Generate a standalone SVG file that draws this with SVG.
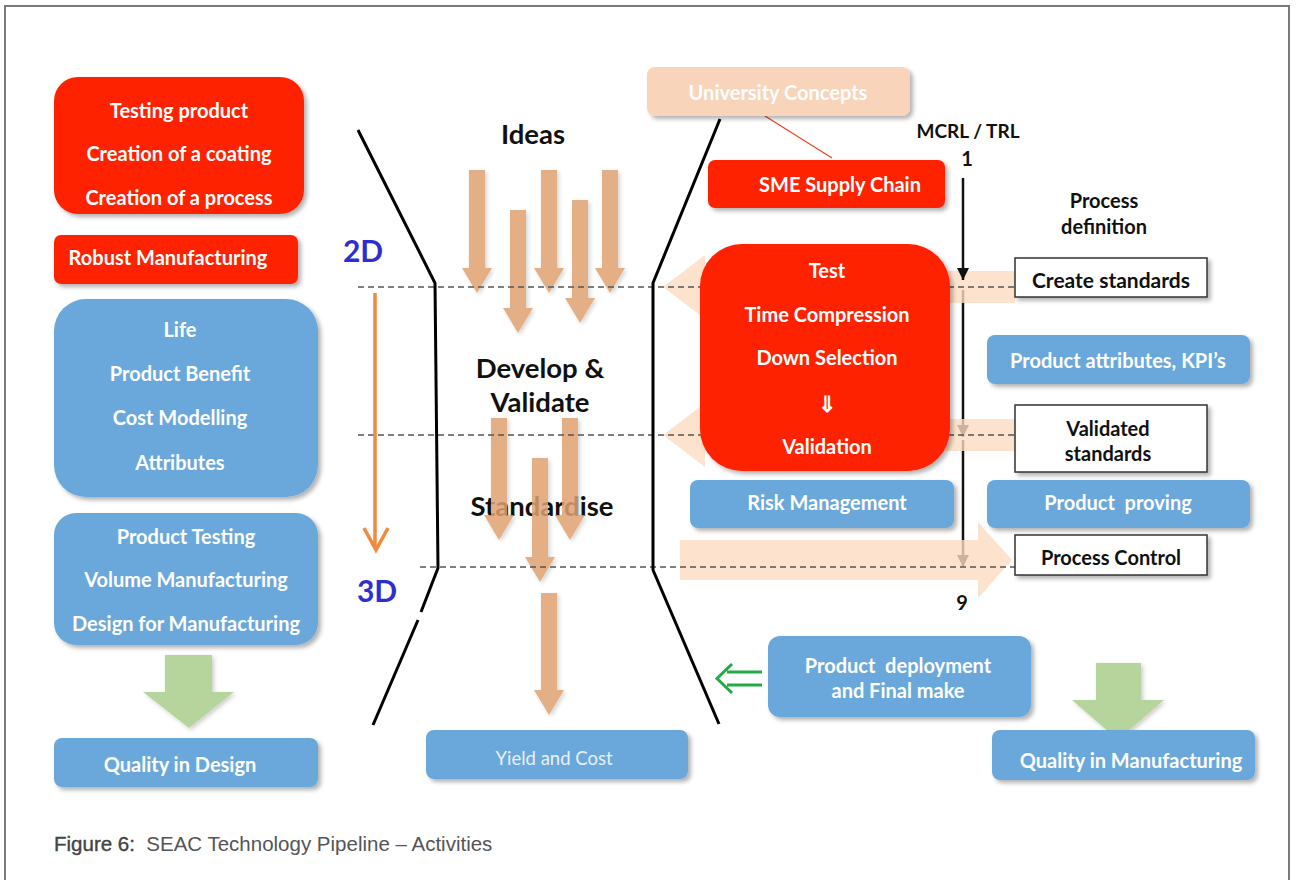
<svg xmlns="http://www.w3.org/2000/svg" width="1296" height="880" viewBox="0 0 1296 880">
<defs>
<filter id="sh" x="-10%" y="-10%" width="130%" height="140%">
<feDropShadow dx="3" dy="3" stdDeviation="2" flood-color="#000" flood-opacity="0.3"/>
</filter>
<filter id="soft" x="-30%" y="-10%" width="160%" height="130%">
<feDropShadow dx="2" dy="2" stdDeviation="2" flood-color="#000" flood-opacity="0.2"/>
</filter>
<marker id="ah" viewBox="0 0 10 10" refX="10" refY="5" markerWidth="5" markerHeight="5" orient="auto" markerUnits="strokeWidth">
<path d="M0,0 L10,5 L0,10 Z" fill="#111"/>
</marker>
</defs>
<style>
.red{fill:#fe2200;filter:url(#sh)}
.blue{fill:#6ba8db;filter:url(#sh)}
.wbox{fill:#fff;stroke:#333;stroke-width:1.5;filter:url(#sh)}
.wt{font-family:Lato,"Liberation Sans",sans-serif;font-weight:bold;font-size:20px;fill:#fff;text-anchor:middle;dominant-baseline:central}
.bt{font-family:Lato,"Liberation Sans",sans-serif;font-weight:bold;font-size:20px;fill:#111;text-anchor:middle;dominant-baseline:central}
.big{font-family:Lato,"Liberation Sans",sans-serif;font-weight:bold;font-size:27.5px;fill:#111;text-anchor:middle;dominant-baseline:central}
.dim{font-family:Lato,"Liberation Sans",sans-serif;font-weight:bold;font-size:30px;fill:#2e2ed0;text-anchor:middle;dominant-baseline:central}
.tan{fill:#e0a270;opacity:0.85;filter:url(#soft)}
.pale{fill:#fcdcc0;opacity:0.8}
.dash{stroke:#555;stroke-width:1.6;stroke-dasharray:6 4;fill:none}
.funnel{stroke:#000;stroke-width:3;fill:none;stroke-linejoin:miter}
.green{fill:#b6d59c;filter:url(#soft)}
</style>
<rect x="5" y="6" width="1284" height="890" fill="#fff" stroke="#7a7a7a" stroke-width="2"/>

<g id="connectors">
<line x1="963" y1="290" x2="963" y2="437" stroke="#111" stroke-width="2.5" marker-end="url(#ah)"/>
<line x1="963" y1="440" x2="963" y2="567" stroke="#111" stroke-width="2.5" marker-end="url(#ah)"/>
<path class="pale" d="M1015,271 H705 V255 L663,287 L705,319 V303 H1015 Z"/>
<path class="pale" d="M1015,419 H705 V403 L663,435 L705,467 V451 H1015 Z"/>
<path class="pale" d="M680,540 H978 V522 L1012,560 L978,598 V580 H680 Z"/>
<g id="label-ideas"><text class="big" x="533" y="133">Ideas</text></g>
<g id="label-develop"><text class="big" x="540" y="367">Develop &amp;</text><text class="big" x="540" y="401">Validate</text></g>
<g id="label-standardise"><text class="big" x="542" y="505">Standardise</text></g>
<path class="tan" d="M469,170 H485 V268 H492 L477,293 L462,268 H469 Z"/>
<path class="tan" d="M510,210 H526 V308 H533 L518,333 L503,308 H510 Z"/>
<path class="tan" d="M541,170 H557 V268 H564 L549,293 L534,268 H541 Z"/>
<path class="tan" d="M572,200 H588 V298 H595 L580,323 L565,298 H572 Z"/>
<path class="tan" d="M602,170 H618 V268 H625 L610,293 L595,268 H602 Z"/>
<path class="tan" d="M491,418 H507 V515 H514 L499,540 L484,515 H491 Z"/>
<path class="tan" d="M562,418 H578 V515 H585 L570,540 L555,515 H562 Z"/>
<path class="tan" d="M532,458 H548 V557 H555 L540,582 L525,557 H532 Z"/>
<path class="tan" d="M541,593 H557 V690 H564 L549,715 L534,690 H541 Z"/>
<line class="dash" x1="358" y1="287" x2="1015" y2="287"/>
<line class="dash" x1="358" y1="435" x2="1015" y2="435"/>
<line class="dash" x1="420" y1="567" x2="1015" y2="567"/>
<path class="funnel" d="M358,130 L435,283 L438,568 L421,612"/>
<path class="funnel" d="M418,620 L373,725"/>
<path class="funnel" d="M720,119 L653,283 L653,570 L719,724"/>
<line x1="963" y1="178" x2="963" y2="280" stroke="#111" stroke-width="2.5" marker-end="url(#ah)"/>
<line x1="765" y1="116" x2="832" y2="158" stroke="#f04020" stroke-width="1.2"/>
<path d="M375,293 V549 M364,528 L376,550 L388,528" stroke="#f08a3c" stroke-width="3.5" fill="none"/>
<path d="M762,672 H727 M762,685 H727 M732,664 L717,678.5 L732,693" stroke="#22aa44" stroke-width="3" fill="none"/>
<path class="green" d="M165,655 H212 V692 H234 L189,728 L143,692 H165 Z"/>
<path class="green" d="M1096,663 H1141 V700 H1164 L1118,740 L1072,700 H1096 Z"/>
</g>

<g id="dims">
<text class="dim" x="363" y="250">2D</text>
<text class="dim" x="377" y="590">3D</text>
</g>

<g id="n-testing">
<rect class="red" x="54" y="77" width="250" height="137" rx="24"/>
<text class="wt" x="179" y="110">Testing product</text>
<text class="wt" x="179" y="153">Creation of a coating</text>
<text class="wt" x="179" y="197">Creation of a process</text>
</g>
<g id="n-robust">
<rect class="red" x="54" y="235" width="244" height="49" rx="7"/>
<text class="wt" x="168" y="257">Robust Manufacturing</text>
</g>
<g id="n-life">
<rect class="blue" x="54" y="299" width="264" height="198" rx="32"/>
<text class="wt" x="180" y="329">Life</text>
<text class="wt" x="180" y="373">Product Benefit</text>
<text class="wt" x="180" y="417">Cost Modelling</text>
<text class="wt" x="180" y="462">Attributes</text>
</g>
<g id="n-prodtest">
<rect class="blue" x="54" y="513" width="264" height="132" rx="22"/>
<text class="wt" x="186" y="536">Product Testing</text>
<text class="wt" x="186" y="579">Volume Manufacturing</text>
<text class="wt" x="186" y="623">Design for Manufacturing</text>
</g>
<g id="n-qdesign">
<rect class="blue" x="54" y="738" width="264" height="49" rx="8"/>
<text class="wt" x="180" y="764">Quality in Design</text>
</g>
<g id="n-yield">
<rect class="blue" x="426" y="730" width="262" height="49" rx="8"/>
<text class="wt" x="554" y="758" style="font-weight:normal;font-size:18.5px;fill:#e6f0fa">Yield and Cost</text>
</g>
<g id="n-university">
<rect x="647" y="67" width="263" height="49" rx="8" fill="#f8d4bb" filter="url(#sh)"/>
<text class="wt" x="778" y="92">University Concepts</text>
</g>
<g id="n-sme">
<rect class="red" x="708" y="160" width="237" height="48" rx="7"/>
<text class="wt" x="840" y="184">SME Supply Chain</text>
</g>
<g id="n-mcrl">
<text class="bt" x="968" y="130" style="font-size:19px">MCRL / TRL</text>
<text class="bt" x="967" y="158">1</text>
<text class="bt" x="962" y="602">9</text>
</g>
<g id="n-procdef">
<text class="bt" x="1104" y="200">Process</text>
<text class="bt" x="1104" y="226">definition</text>
</g>
<g id="n-test">
<rect class="red" x="700" y="244" width="250" height="227" rx="42"/>
<text class="wt" x="827" y="270">Test</text>
<text class="wt" x="827" y="314">Time Compression</text>
<text class="wt" x="827" y="357">Down Selection</text>
<text class="wt" x="827" y="403" style="font-size:22px">⇓</text>
<text class="wt" x="827" y="446">Validation</text>
</g>
<g id="n-create">
<rect class="wbox" x="1015" y="258" width="192" height="39"/>
<text class="bt" x="1111" y="279" style="font-size:21px">Create standards</text>
</g>
<g id="n-kpi">
<rect class="blue" x="987" y="335" width="263" height="49" rx="8"/>
<text class="wt" x="1118" y="360">Product attributes, KPI’s</text>
</g>
<g id="n-validated">
<rect class="wbox" x="1015" y="405" width="192" height="67"/>
<text class="bt" x="1108" y="428">Validated</text>
<text class="bt" x="1108" y="453">standards</text>
</g>
<g id="n-risk">
<rect class="blue" x="690" y="480" width="264" height="48" rx="8"/>
<text class="wt" x="827" y="502">Risk Management</text>
</g>
<g id="n-proving">
<rect class="blue" x="987" y="480" width="263" height="48" rx="8"/>
<text class="wt" x="1118" y="502" xml:space="preserve">Product  proving</text>
</g>
<g id="n-control">
<rect class="wbox" x="1015" y="535" width="192" height="40"/>
<text class="bt" x="1111" y="557">Process Control</text>
</g>
<g id="n-deploy">
<rect class="blue" x="768" y="636" width="263" height="81" rx="12"/>
<text class="wt" x="898" y="665" xml:space="preserve">Product  deployment</text>
<text class="wt" x="898" y="690">and Final make</text>
</g>
<g id="n-qmanuf">
<rect class="blue" x="992" y="730" width="263" height="50" rx="8"/>
<text class="wt" x="1131" y="760">Quality in Manufacturing</text>
</g>
<g id="caption">
<text x="54" y="851" font-family="Liberation Sans, Arial, sans-serif" font-size="20.5" fill="#555" xml:space="preserve"><tspan fill="#444" stroke="#444" stroke-width="0.4">Figure 6:</tspan>  SEAC Technology Pipeline – Activities</text>
</g>
</svg>
